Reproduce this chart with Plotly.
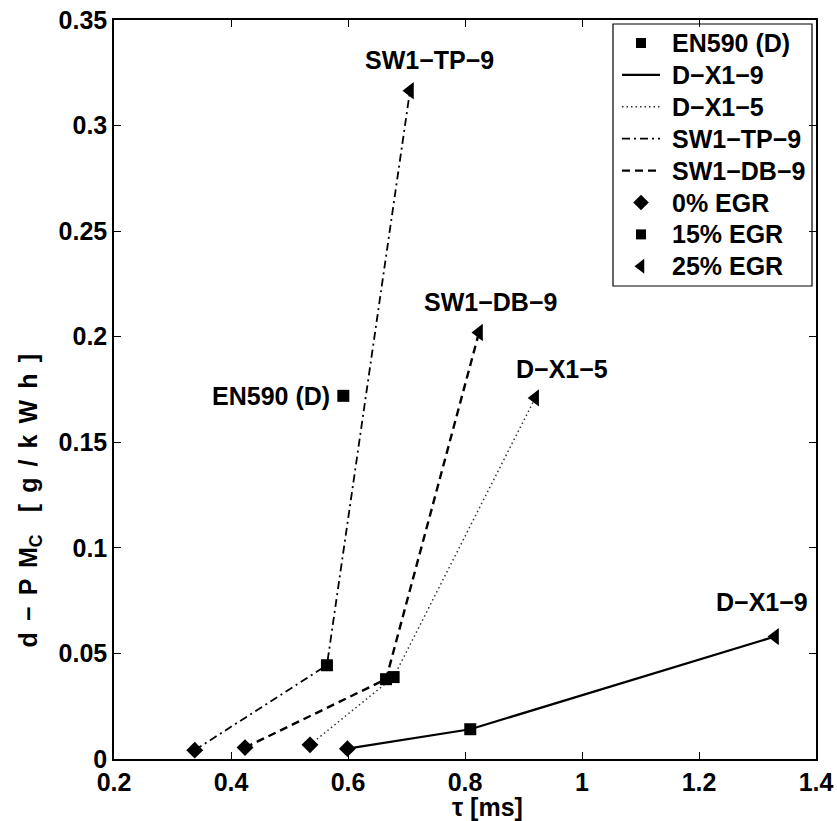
import plotly.graph_objects as go

# ---- data ----
egr_levels = ["0% EGR", "15% EGR", "25% EGR"]
egr_symbols = ["diamond", "square", "triangle-left"]

dx1_9_tau = [0.599, 0.809, 1.330]
dx1_9_pm = [0.0049, 0.0141, 0.0580]

dx1_5_tau = [0.535, 0.678, 0.920]
dx1_5_pm = [0.0067, 0.0388, 0.1710]

sw1_tp_9_tau = [0.338, 0.564, 0.706]
sw1_tp_9_pm = [0.0042, 0.0444, 0.3165]

sw1_db_9_tau = [0.424, 0.665, 0.824]
sw1_db_9_pm = [0.0054, 0.0378, 0.2020]

en590_tau = [0.592]
en590_pm = [0.172]

series_names = ["D−X1−9", "D−X1−5", "SW1−TP−9", "SW1−DB−9"]
series_tau = [dx1_9_tau, dx1_5_tau, sw1_tp_9_tau, sw1_db_9_tau]
series_pm = [dx1_9_pm, dx1_5_pm, sw1_tp_9_pm, sw1_db_9_pm]

x_ticks = [0.2, 0.4, 0.6, 0.8, 1.0, 1.2, 1.4]
x_ticktext = ["0.2", "0.4", "0.6", "0.8", "1", "1.2", "1.4"]
y_ticks = [0, 0.05, 0.1, 0.15, 0.2, 0.25, 0.3, 0.35]
y_ticktext = ["0", "0.05", "0.1", "0.15", "0.2", "0.25", "0.3", "0.35"]

# ---- styles ----
FONT = "Liberation Sans, Arial, Helvetica, sans-serif"
FS_TICK = 25
FS = 25
series_line = [
    dict(color="black", width=2.2, dash="solid"),
    dict(color="#333333", width=1.5, dash="1.5px,3px"),
    dict(color="black", width=1.8, dash="8px,4px,2px,4px"),
    dict(color="black", width=2.4, dash="8px,5px"),
]
marker_sizes = [13, 12, 15]
en590_size = 12

W, H = 837, 821
L, R, T, B = 114, 21, 20, 62

fig = go.Figure()

# connecting lines
for name, tx, ty, ln in zip(series_names, series_tau, series_pm, series_line):
    fig.add_trace(go.Scatter(x=tx, y=ty, mode="lines", name=name, line=ln,
                             showlegend=False))

# EN590 reference point
fig.add_trace(go.Scatter(x=en590_tau, y=en590_pm, mode="markers", name="EN590 (D)",
                         marker=dict(symbol="square", size=en590_size, color="black"),
                         showlegend=False))

# markers by EGR level
for i, (lvl, sym) in enumerate(zip(egr_levels, egr_symbols)):
    fig.add_trace(go.Scatter(
        x=[tx[i] for tx in series_tau], y=[ty[i] for ty in series_pm],
        mode="markers", name=lvl, showlegend=False,
        marker=dict(symbol=sym, size=marker_sizes[i], color="black"),
    ))

tfont = dict(family=FONT, size=FS, color="black", weight="bold")

# labels near the 25% EGR point of each series (pixel offsets)
label_offsets = [(-13, 35), (27, 29), (19, 31), (11, 30)]
for name, tx, ty, (dx, dy) in zip(series_names, series_tau, series_pm, label_offsets):
    fig.add_annotation(x=tx[-1], y=ty[-1], text=name, showarrow=False,
                       xshift=dx, yshift=dy, xanchor="center", font=tfont)
fig.add_annotation(x=en590_tau[0], y=en590_pm[0], text="EN590 (D)", showarrow=False,
                   xshift=-11, xanchor="right", font=tfont)

# ---- manual legend drawn on a pixel-coordinate overlay axis ----
legend_labels = ["EN590 (D)"] + series_names + egr_levels
legend_kinds = (["m"] + ["l"] * 4 + ["m"] * 3)
legend_styles = ([dict(symbol="square", size=10)] + series_line +
                 [dict(symbol=s, size=sz) for s, sz in zip(egr_symbols, [12, 10, 13])])
leg_x0, leg_x1, leg_y0, leg_y1 = 613, 812, 24, 286
row_top, row_pitch = 43, 31.9
samp_x0, samp_x1, text_x = 622, 660, 670

for k, (lab, kind, st) in enumerate(zip(legend_labels, legend_kinds, legend_styles)):
    yy = row_top + k * row_pitch
    if kind == "l":
        fig.add_trace(go.Scatter(x=[samp_x0, samp_x1], y=[yy, yy], mode="lines",
                                 line=st, xaxis="x2", yaxis="y2", showlegend=False,
                                 hoverinfo="skip"))
    else:
        fig.add_trace(go.Scatter(x=[(samp_x0 + samp_x1) / 2], y=[yy], mode="markers",
                                 marker=dict(color="black", **st), xaxis="x2", yaxis="y2",
                                 showlegend=False, hoverinfo="skip"))
    fig.add_annotation(x=text_x, y=yy, xref="x2", yref="y2", text=lab, showarrow=False,
                       xanchor="left", yanchor="middle", font=tfont)

fig.add_shape(type="rect", xref="x2", yref="y2", x0=leg_x0, x1=leg_x1, y0=leg_y0, y1=leg_y1,
              line=dict(color="black", width=1.2), fillcolor="rgba(0,0,0,0)", layer="above")

# axis titles
fig.add_annotation(x=0.838, y=-0.0645, xref="x", yref="paper", text="τ [ms]", showarrow=False,
                   xanchor="center", yanchor="middle", font=tfont)
gap = " \u2006"
ylab = gap.join(["d", "−", "P", "M<sub>C</sub>"]) + gap + gap + \
       gap.join(["[", "g", "/", "k", "W", "h", "]"])
fig.add_annotation(x=-(L - 30) / (W - L - R), y=0.122, xref="paper", yref="y", text=ylab,
                   showarrow=False, textangle=-90, xanchor="center", yanchor="middle",
                   font=tfont)

axis_common = dict(
    showline=True, linecolor="black", linewidth=1.5, mirror="ticks",
    ticks="inside", ticklen=7, tickcolor="black", tickwidth=1,
    showgrid=False, zeroline=False,
    tickfont=dict(family=FONT, size=FS_TICK, color="black", weight="bold"),
)

fig.update_layout(
    width=W, height=H,
    margin=dict(l=L, r=R, t=T, b=B, autoexpand=False),
    paper_bgcolor="white", plot_bgcolor="white",
    font=dict(family=FONT, size=FS, color="black"),
    showlegend=False,
    xaxis=dict(range=[0.2, 1.4], tickvals=x_ticks, ticktext=x_ticktext, **axis_common),
    yaxis=dict(range=[0, 0.35], tickvals=y_ticks, ticktext=y_ticktext, **axis_common),
    xaxis2=dict(range=[L, W - R], overlaying="x", anchor="y2", visible=False,
                fixedrange=True),
    yaxis2=dict(range=[H - B, T], overlaying="y", anchor="x2", visible=False,
                fixedrange=True),
)

fig.write_html("out.html")
